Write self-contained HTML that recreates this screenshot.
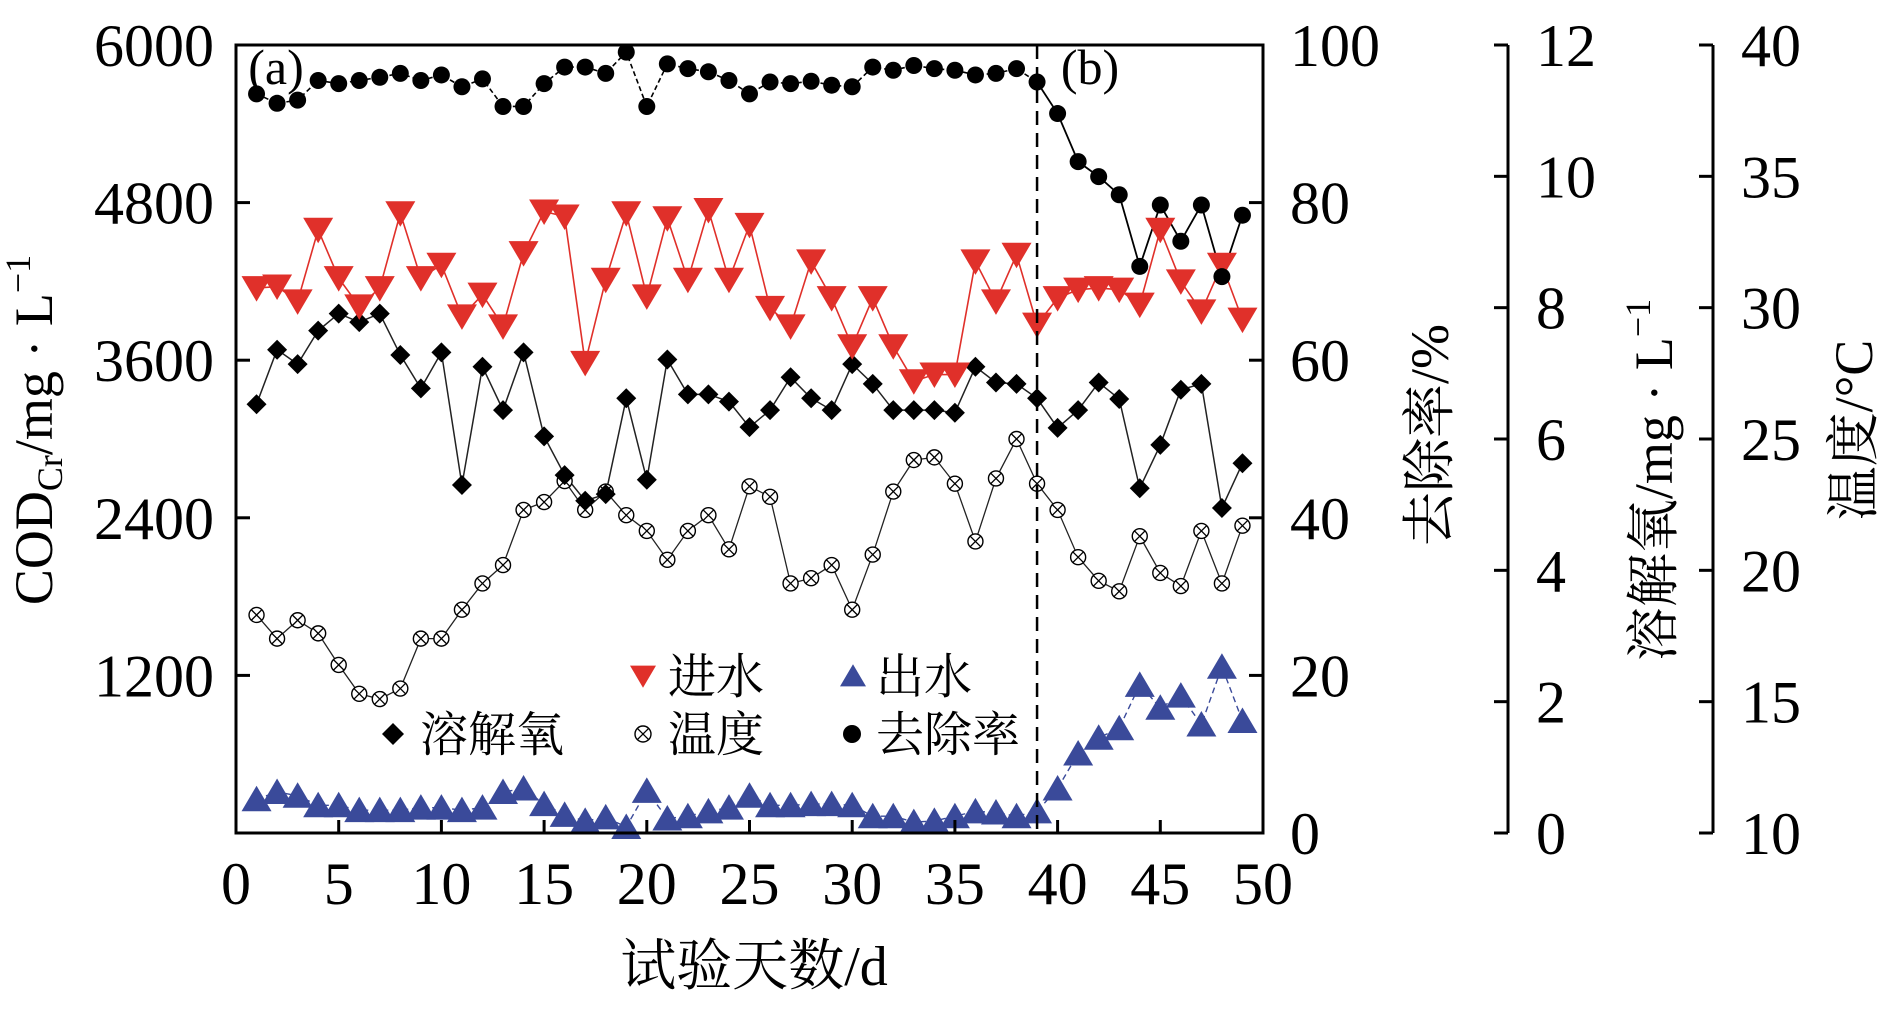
<!DOCTYPE html>
<html><head><meta charset="utf-8">
<style>
html,body{margin:0;padding:0;background:#fff;}
svg{display:block;}
text{font-family:"Liberation Serif","Noto Serif CJK SC","Noto Sans CJK SC",serif;fill:#000;}
</style></head>
<body>
<svg id="chart" width="1890" height="1016" viewBox="0 0 1890 1016" xmlns="http://www.w3.org/2000/svg"></svg>
<script>
const days = Array.from({length:49},(_,i)=>i+1);
const inflow = [4149,4161,4048,4593,4225,4010,4149,4719,4225,4327,3934,4099,3858,4415,4732,4694,3580,4213,4719,4086,4681,4213,4744,4213,4630,3998,3858,4352,4073,3706,4073,3706,3440,3491,3491,4352,4048,4403,3871,4073,4137,4149,4137,4023,4593,4200,3972,4327,3909];
const outflow = [257,312,284,211,211,174,174,174,193,193,174,193,312,339,220,138,92,119,46,321,110,128,165,193,284,211,211,220,220,211,128,128,83,92,128,165,156,128,165,339,605,725,798,1128,954,1046,826,1266,853];
const removal = [93.8,92.6,93.0,95.5,95.1,95.5,95.9,96.4,95.5,96.2,94.7,95.7,92.2,92.2,95.1,97.2,97.2,96.4,99.1,92.2,97.6,97.0,96.6,95.5,93.8,95.3,95.1,95.4,94.9,94.7,97.2,96.8,97.4,97.0,96.8,96.2,96.4,97.0,95.3,91.3,85.2,83.3,81.0,71.9,79.7,75.1,79.7,70.6,78.4];
const dissolvedO2 = [6.53,7.36,7.14,7.65,7.91,7.78,7.91,7.28,6.77,7.32,5.30,7.10,6.44,7.32,6.04,5.45,5.06,5.16,6.62,5.38,7.21,6.68,6.68,6.57,6.18,6.44,6.94,6.62,6.44,7.14,6.84,6.44,6.44,6.44,6.40,7.10,6.86,6.84,6.62,6.17,6.44,6.86,6.61,5.25,5.91,6.75,6.84,4.95,5.63];
const temperature = [18.3,17.4,18.1,17.6,16.4,15.3,15.1,15.5,17.4,17.4,18.5,19.5,20.2,22.3,22.6,23.4,22.3,23.0,22.1,21.5,20.4,21.5,22.1,20.8,23.2,22.8,19.5,19.7,20.2,18.5,20.6,23.0,24.2,24.3,23.3,21.1,23.5,25.0,23.3,22.3,20.5,19.6,19.2,21.3,19.9,19.4,21.5,19.5,21.7];
const xTicks = [0,5,10,15,20,25,30,35,40,45,50];
const codTicks = [1200,2400,3600,4800,6000];
const pctTicks = [0,20,40,60,80,100];
const doTicks = [0,2,4,6,8,10,12];
const tempTicks = [10,15,20,25,30,35,40];
const phaseSplitDay = 39;

const L=236,R=1263,T=45,B=833;
const xS=d=>L+(d/50)*(R-L);
const yCod=v=>B-(v/6000)*(B-T);
const yPct=v=>B-(v/100)*(B-T);
const yDO=v=>B-(v/12)*(B-T);
const yTemp=v=>B-((v-10)/30)*(B-T);
const NS="http://www.w3.org/2000/svg";
const svg=document.getElementById('chart');
function mk(tag,attrs,parent){const e=document.createElementNS(NS,tag);for(const k in attrs)e.setAttribute(k,attrs[k]);(parent||svg).appendChild(e);return e;}
function txt(s,x,y,size,anchor,parent){const t=mk('text',{x:x,y:y,'font-size':size,'text-anchor':anchor||'middle'},parent);t.textContent=s;return t;}
function line(pts,stroke,w,dash,name){const p=mk('polyline',{points:pts.map(p=>p.join(',')).join(' '),fill:'none',stroke:stroke,'stroke-width':w});if(dash)p.setAttribute('stroke-dasharray',dash);


return p;}
function triDown(g,x,y,s,c){mk('polygon',{points:`${x-s},${y-s*0.8} ${x+s},${y-s*0.8} ${x},${y+s*0.9}`,fill:c},g);}
function triUp(g,x,y,s,c){mk('polygon',{points:`${x-s},${y+s*0.8} ${x+s},${y+s*0.8} ${x},${y-s*0.9}`,fill:c},g);}
function diamond(g,x,y,s){mk('polygon',{points:`${x},${y-s} ${x+s},${y} ${x},${y+s} ${x-s},${y}`,fill:'#000'},g);}
function xcirc(g,x,y,r){mk('circle',{cx:x,cy:y,r:r,fill:'#fff',stroke:'#000','stroke-width':1.4},g);const d=r*0.7;mk('line',{x1:x-d,y1:y-d,x2:x+d,y2:y+d,stroke:'#000','stroke-width':1.3},g);mk('line',{x1:x-d,y1:y+d,x2:x+d,y2:y-d,stroke:'#000','stroke-width':1.3},g);}

// lines
line(days.map((d,i)=>[xS(d),yTemp(temperature[i])]),'#222',1.3,null,'temperature-line');
line(days.map((d,i)=>[xS(d),yDO(dissolvedO2[i])]),'#222',1.5,null,'dissolved-oxygen-line');
line(days.map((d,i)=>[xS(d),yCod(inflow[i])]),'#e0302a',1.6,null,'inflow-line');
line(days.map((d,i)=>[xS(d),yCod(outflow[i])]),'#3a4a9a',1.4,'6,4','outflow-line');
line(days.filter(d=>d<=phaseSplitDay).map(d=>[xS(d),yPct(removal[d-1])]),'#000',1.6,'5,3','removal-line-a');
line(days.filter(d=>d>=phaseSplitDay).map(d=>[xS(d),yPct(removal[d-1])]),'#000',1.8,null,'removal-line-b');

// markers
const gT=mk('g',{});
days.forEach((d,i)=>xcirc(gT,xS(d),yTemp(temperature[i]),7.5));
const gD=mk('g',{});
days.forEach((d,i)=>diamond(gD,xS(d),yDO(dissolvedO2[i]),10));
const gI=mk('g',{});
days.forEach((d,i)=>triDown(gI,xS(d),yCod(inflow[i]),15,'#e0302a'));
const gO=mk('g',{});
days.forEach((d,i)=>triUp(gO,xS(d),yCod(outflow[i]),15,'#3a4a9a'));
const gR=mk('g',{});
days.forEach((d,i)=>mk('circle',{cx:xS(d),cy:yPct(removal[i]),r:8.5,fill:'#000'},gR));

// phase split
const ds=mk('line',{x1:xS(phaseSplitDay),y1:T,x2:xS(phaseSplitDay),y2:B,stroke:'#000','stroke-width':2.5,'stroke-dasharray':'14,8'});


// frame
const fr=mk('rect',{x:L,y:T,width:R-L,height:B-T,fill:'none',stroke:'#000','stroke-width':3});


// x axis
const gx=mk('g',{});
xTicks.forEach(t=>{mk('line',{x1:xS(t),y1:B,x2:xS(t),y2:B-13,stroke:'#000','stroke-width':3},gx);txt(String(t),xS(t),904,60,'middle',gx);});
const xt=txt('试验天数/d',754,985,56,'middle');

// left axis
const gl=mk('g',{});
codTicks.forEach(t=>{mk('line',{x1:L,y1:yCod(t),x2:L+14,y2:yCod(t),stroke:'#000','stroke-width':3},gl);txt(String(t),214,yCod(t)+21,60,'end',gl);});
const yt=mk('text',{x:0,y:0,'font-size':54,'text-anchor':'middle',transform:'translate(52,430) rotate(-90)'});
yt.innerHTML='COD<tspan font-size="36" dy="10">Cr</tspan><tspan dy="-10">/mg · L</tspan><tspan font-size="36" dy="-22">−1</tspan>';


// right pct axis
const gp=mk('g',{});
pctTicks.forEach(t=>{mk('line',{x1:R,y1:yPct(t),x2:R-14,y2:yPct(t),stroke:'#000','stroke-width':3},gp);txt(String(t),1290,yPct(t)+21,60,'start',gp);});
const pt=mk('text',{x:0,y:0,'font-size':54,'text-anchor':'middle',transform:'translate(1448,435) rotate(-90)'});pt.textContent='去除率/%';


// DO axis
const DX=1508;
const gd=mk('g',{});
mk('line',{x1:DX,y1:T,x2:DX,y2:B,stroke:'#000','stroke-width':3},gd);
doTicks.forEach(t=>{mk('line',{x1:DX,y1:yDO(t),x2:DX-14,y2:yDO(t),stroke:'#000','stroke-width':3},gd);txt(String(t),1536,yDO(t)+21,60,'start',gd);});
const dt=mk('text',{x:0,y:0,'font-size':54,'text-anchor':'middle',transform:'translate(1672,480) rotate(-90)'});
dt.innerHTML='溶解氧/mg · L<tspan font-size="36" dy="-22">−1</tspan>';


// temp axis
const TX=1713;
const gtm=mk('g',{});
mk('line',{x1:TX,y1:T,x2:TX,y2:B,stroke:'#000','stroke-width':3},gtm);
tempTicks.forEach(t=>{mk('line',{x1:TX,y1:yTemp(t),x2:TX-14,y2:yTemp(t),stroke:'#000','stroke-width':3},gtm);txt(String(t),1741,yTemp(t)+21,60,'start',gtm);});
const tt=mk('text',{x:0,y:0,'font-size':54,'text-anchor':'middle',transform:'translate(1872,430) rotate(-90)'});tt.textContent='温度/°C';


// panel labels
const pa=txt('(a)',276,84,50);
const pb=txt('(b)',1090,84,50);

// legend
const lg=mk('g',{});
const e1=mk('g',{},lg);
triDown(e1,643,676,13,'#e0302a');txt('进水',668,693,48,'start',e1);
const e2=mk('g',{},lg);
triUp(e2,853,676,13,'#3a4a9a');txt('出水',876,693,48,'start',e2);
const e3=mk('g',{},lg);
diamond(e3,393,734,11);txt('溶解氧',420,751,48,'start',e3);
const e4=mk('g',{},lg);
xcirc(e4,643,734,8);txt('温度',668,751,48,'start',e4);
const e5=mk('g',{},lg);
mk('circle',{cx:852,cy:734,r:9,fill:'#000'},e5);txt('去除率',876,751,48,'start',e5);
</script>
</body></html>
